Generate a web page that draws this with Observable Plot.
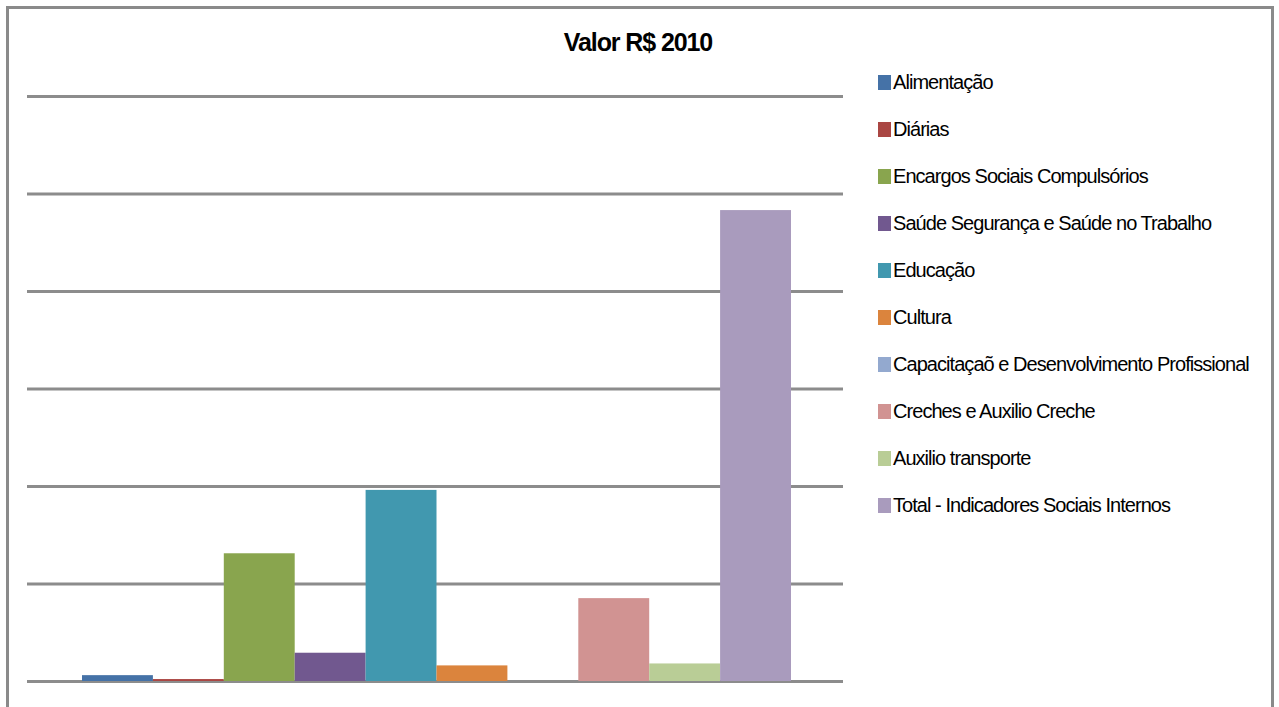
<!DOCTYPE html>
<html>
<head>
<meta charset="utf-8">
<script src="https://cdn.jsdelivr.net/npm/d3@7"></script>
<script src="https://cdn.jsdelivr.net/npm/@observablehq/plot@0.6"></script>
<style>
  html, body { margin: 0; padding: 0; background: #fff; width: 1279px; height: 707px; overflow: hidden; }
  #frame { position: absolute; left: 6px; top: 6px; width: 1262px; height: 720px; border: 3px solid #8a8a8a; box-sizing: content-box; }
  #chart { position: absolute; left: 0; top: 0; }
  #title { position: absolute; left: 438px; width: 400px; top: 28px; text-align: center;
           font-family: "Liberation Sans", Arial, sans-serif; font-weight: bold; font-size: 25px; letter-spacing: -1.1px; color: #000; }
  .leg { position: absolute; left: 878px; height: 20px; display: flex; align-items: center;
         font-family: "Liberation Sans", Arial, sans-serif; font-size: 20px; color: #000; letter-spacing: -0.95px; white-space: nowrap; }
  .leg .sw { width: 13px; height: 15px; margin-right: 2px; flex: none; }
</style>
</head>
<body>
<div id="frame"></div>
<div id="chart"></div>
<div id="title">Valor R$ 2010</div>
<div id="legend"></div>
<script>
const categories = [
  "Alimentação",
  "Diárias",
  "Encargos Sociais Compulsórios",
  "Saúde Segurança e Saúde no Trabalho",
  "Educação",
  "Cultura",
  "Capacitaçaõ e Desenvolvimento Profissional",
  "Creches e Auxilio Creche",
  "Auxilio transporte",
  "Total - Indicadores Sociais Internos"
];
const values = [0.06, 0.02, 1.31, 0.29, 1.96, 0.16, 0, 0.85, 0.18, 4.83];
const colors = ["#4572A7", "#AA4643", "#89A54E", "#71588F", "#4198AF", "#DB843D", "#93A9CF", "#D19392", "#B9CD96", "#A99BBD"];
const gridTicks = [0, 1, 2, 3, 4, 5, 6];

const data = categories.map((c, i) => ({category: c, value: values[i]}));

const plot = Plot.plot({
  width: 860,
  height: 707,
  marginLeft: 27,
  marginRight: 17,
  marginTop: 96,
  marginBottom: 26,
  x: {domain: categories, range: [82, 791], padding: 0, round: false, axis: null},
  y: {domain: [0, 6], range: [681, 96], axis: null},
  color: {domain: categories, range: colors},
  marks: [
    Plot.ruleY(gridTicks, {stroke: "#8c8c8c", strokeWidth: 3, strokeOpacity: 1}),
    Plot.barY(data, {x: "category", y: "value", fill: "category", inset: 0})
  ]
});
document.getElementById("chart").appendChild(plot);

const legend = d3.select("#legend");
const centers0 = 82, step = 47.1;
categories.forEach((c, i) => {
  const row = legend.append("div").attr("class", "leg").style("top", (centers0 + i * step - 10) + "px");
  row.append("div").attr("class", "sw").style("background", colors[i]);
  row.append("span").text(c);
});
</script>
</body>
</html>
